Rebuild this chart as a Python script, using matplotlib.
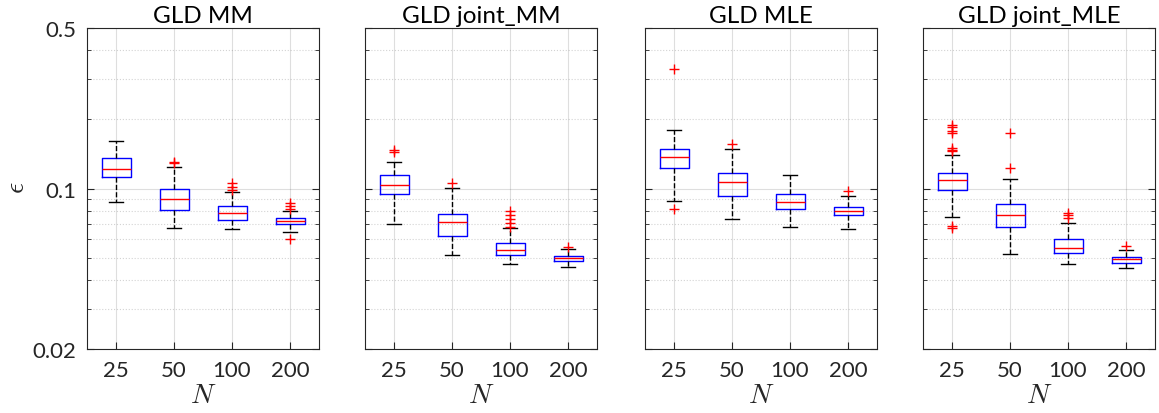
import numpy as np
import matplotlib
matplotlib.use("Agg")
import matplotlib.pyplot as plt
from matplotlib.ticker import LogLocator, NullFormatter, FixedLocator

plt.rcParams['font.family'] = ['Lato', 'DejaVu Sans']
plt.rcParams['mathtext.fontset'] = 'cm'

# sample sizes on the x axis
N_labels = ['25', '50', '100', '200']
titles = ['GLD MM', 'GLD joint_MM', 'GLD MLE', 'GLD joint_MLE']

# box statistics (error epsilon)
mm_hi = [0.161, 0.124, 0.0968, 0.080]
mm_q3 = [0.136, 0.0992, 0.0836, 0.0746]
mm_med = [0.122, 0.0903, 0.078, 0.0724]
mm_q1 = [0.112, 0.0804, 0.0731, 0.0700]
mm_lo = [0.0874, 0.0671, 0.0668, 0.0647]
mm_fliers = [[], [0.131, 0.129], [0.106, 0.102, 0.0985],
             [0.0867, 0.0839, 0.0812, 0.0603]]

jmm_hi = [0.131, 0.1005, 0.0675, 0.0547]
jmm_q3 = [0.1142, 0.0775, 0.0581, 0.0510]
jmm_med = [0.1039, 0.0713, 0.0541, 0.0498]
jmm_q1 = [0.0944, 0.0619, 0.0512, 0.0482]
jmm_lo = [0.0700, 0.0512, 0.0469, 0.0457]
jmm_fliers = [[0.1476, 0.1438], [0.1057],
              [0.0796, 0.0767, 0.0737, 0.0708, 0.0682], [0.0555]]

mle_hi = [0.1798, 0.1486, 0.1148, 0.0928]
mle_q3 = [0.1482, 0.1172, 0.0950, 0.0834]
mle_med = [0.1368, 0.1064, 0.0874, 0.0796]
mle_q1 = [0.1228, 0.0928, 0.0814, 0.0767]
mle_lo = [0.0880, 0.0737, 0.0680, 0.0668]
mle_fliers = [[0.3326, 0.0812], [0.1558], [], [0.0978]]

jmle_hi = [0.1404, 0.1104, 0.0708, 0.0541]
jmle_q3 = [0.1172, 0.0856, 0.0604, 0.0505]
jmle_med = [0.1089, 0.0765, 0.0552, 0.0492]
jmle_q1 = [0.0988, 0.0680, 0.0522, 0.0475]
jmle_lo = [0.0751, 0.0519, 0.0470, 0.0449]
jmle_fliers = [[0.1891, 0.1854, 0.1775, 0.1750, 0.1497, 0.1476, 0.1462, 0.0684, 0.0671],
               [0.1746, 0.1224], [0.0785, 0.0767, 0.0746], [0.0562]]

panels = [
    (mm_lo, mm_q1, mm_med, mm_q3, mm_hi, mm_fliers),
    (jmm_lo, jmm_q1, jmm_med, jmm_q3, jmm_hi, jmm_fliers),
    (mle_lo, mle_q1, mle_med, mle_q3, mle_hi, mle_fliers),
    (jmle_lo, jmle_q1, jmle_med, jmle_q3, jmle_hi, jmle_fliers),
]

fig = plt.figure(figsize=(11.59, 4.14), dpi=100)
lefts = [87, 365, 645, 923]
axc = '#262626'

for i, (lo, q1, med, q3, hi, fl) in enumerate(panels):
    ax = fig.add_axes([lefts[i] / 1159, 1 - 350 / 414, 232 / 1159, 321 / 414])
    stats = []
    for k in range(4):
        stats.append(dict(whislo=lo[k], q1=q1[k], med=med[k], q3=q3[k],
                          whishi=hi[k], fliers=fl[k]))
    ax.bxp(stats, positions=[1, 2, 3, 4], widths=0.5, capwidths=0.25,
           boxprops=dict(color='blue', linewidth=1.0),
           medianprops=dict(color='red', linewidth=1.0),
           whiskerprops=dict(color='black', linestyle='--', linewidth=1.0),
           capprops=dict(color='black', linewidth=1.0),
           flierprops=dict(marker='+', markeredgecolor='red', markersize=7,
                           markeredgewidth=1.0, linestyle='none'))
    ax.set_yscale('log')
    ax.set_ylim(0.02, 0.5)
    ax.set_xlim(0.5, 4.5)
    ax.yaxis.set_major_locator(FixedLocator([0.02, 0.1, 0.5]))
    ax.yaxis.set_minor_locator(LogLocator(base=10, subs=np.arange(2, 10)))
    ax.yaxis.set_minor_formatter(NullFormatter())
    ax.set_xticks([1, 2, 3, 4])
    ax.set_xticklabels(N_labels)
    if i == 0:
        ax.set_yticklabels(['0.02', '0.1', '0.5'])
    else:
        ax.set_yticklabels([])
    ax.grid(True, which='major', color='#262626', alpha=0.15, linewidth=0.8)
    ax.grid(True, which='minor', axis='y', color='#262626', alpha=0.2,
            linestyle=':', linewidth=0.8)
    ax.set_axisbelow(True)
    ax.tick_params(which='both', direction='in', right=True, top=False,
                   colors=axc, labelsize=16, labelcolor='#262626')
    ax.tick_params(which='major', length=5, pad=8)
    ax.tick_params(which='minor', length=3)
    for s in ax.spines.values():
        s.set_color(axc)
        s.set_linewidth(0.8)
    ax.set_xlabel(r'$N$', fontsize=20, color=axc, labelpad=1)
    ax.set_title(titles[i], fontsize=17.5, pad=4)

# y label (epsilon) on the far left
fig.text(16 / 1159, 1 - 188 / 414, r'$\epsilon$', rotation=90,
         ha='center', va='center', fontsize=20, color=axc)

fig.savefig('out.png', dpi=100)
